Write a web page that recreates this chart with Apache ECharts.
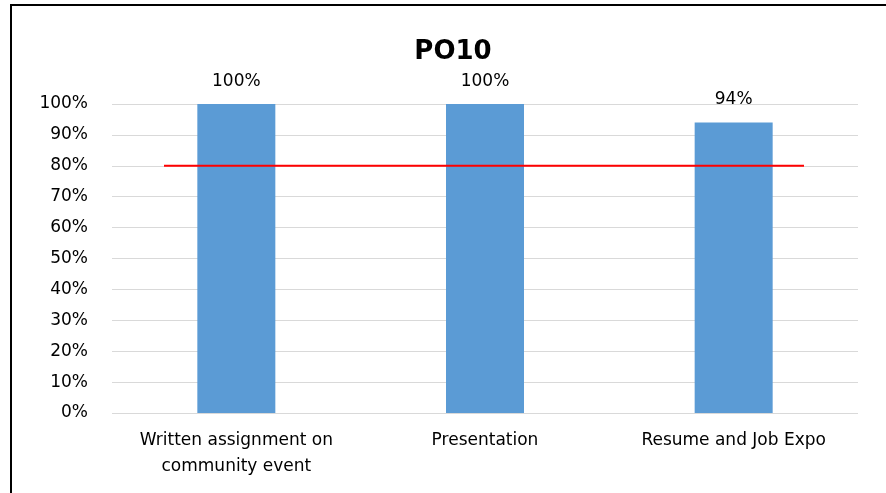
<!DOCTYPE html>
<html>
<head>
<meta charset="utf-8">
<script src="https://cdn.jsdelivr.net/npm/echarts@6/dist/echarts.min.js"></script>
<style>html,body{margin:0;padding:0;background:#fff}#c{width:886px;height:493px}</style>
</head>
<body>
<div id="c"></div>
<script>
var categories = ['Written assignment on\ncommunity event', 'Presentation', 'Resume and Job Expo'];
var values = [100, 100, 94];
var target = [80, 80, 80];
var chartTitle = 'PO10';
var FONT = '"DejaVu Sans", sans-serif';

var chart = echarts.init(document.getElementById('c'), null, {renderer: 'canvas'});
chart.setOption({
  animation: false,
  backgroundColor: '#ffffff',
  title: {
    text: chartTitle, left: 448, top: 34, textAlign: 'center',
    textStyle: {fontFamily: FONT, fontWeight: 'bold', fontSize: 26, color: '#000'}
  },
  graphic: [{
    type: 'rect', shape: {x: 11, y: 5, width: 1000, height: 700},
    style: {fill: 'none', stroke: '#000', lineWidth: 2}, silent: true, z: 100
  }],
  grid: [
    {left: 112, right: 28, top: 104, bottom: 80},
    {left: 164, right: 82, top: 104, bottom: 80}
  ],
  xAxis: [
    {
      type: 'category', data: categories, gridIndex: 0,
      axisLine: {show: false}, axisTick: {show: false},
      axisLabel: {fontFamily: FONT, fontSize: 17, color: '#000', margin: 15, lineHeight: 26, interval: 0}
    },
    {
      type: 'category', data: categories, gridIndex: 1, boundaryGap: false, show: false
    }
  ],
  yAxis: [
    {
      type: 'value', min: 0, max: 100, interval: 10, gridIndex: 0,
      axisLine: {show: false}, axisTick: {show: false},
      splitLine: {lineStyle: {color: '#d9d9d9', width: 1}},
      axisLabel: {fontFamily: FONT, fontSize: 17, color: '#000', margin: 24, padding: [3, 0, 0, 0], formatter: '{value}%'}
    },
    {type: 'value', min: 0, max: 100, gridIndex: 1, show: false}
  ],
  series: [
    {
      type: 'bar', data: values, xAxisIndex: 0, yAxisIndex: 0, barWidth: 78,
      itemStyle: {color: '#5B9BD5'},
      label: {show: true, position: 'top', distance: 14, formatter: '{c}%', fontFamily: FONT, fontSize: 17, color: '#000'}
    },
    {
      type: 'line', data: target, xAxisIndex: 1, yAxisIndex: 1, symbol: 'none',
      lineStyle: {color: '#ff0000', width: 2}, z: 5
    }
  ]
});
</script>
</body>
</html>
